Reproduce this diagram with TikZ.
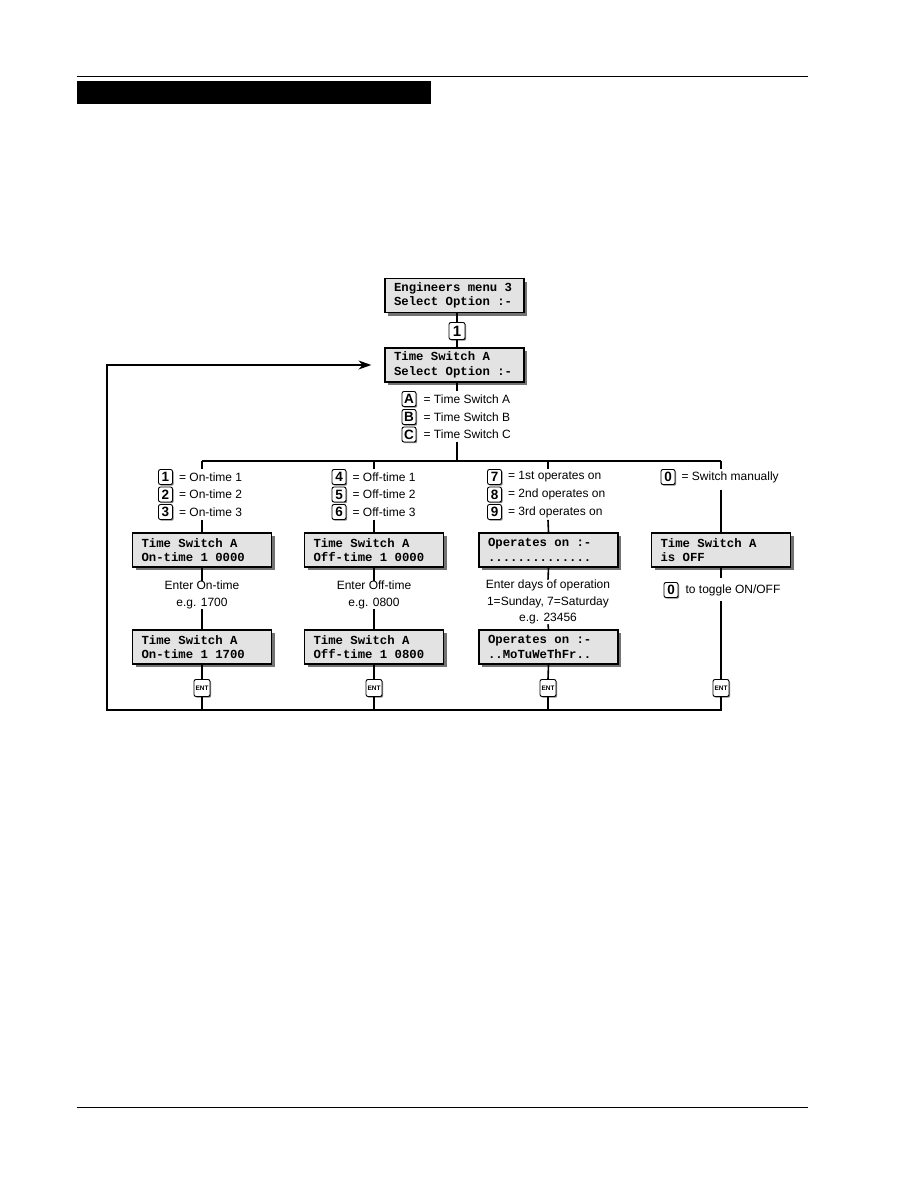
\documentclass[tikz,border=0pt]{standalone}
\usepackage{fontspec}
\setmainfont{Liberation Sans}
\setsansfont{Liberation Sans}
\setmonofont{Liberation Mono}
\usetikzlibrary{shadows,arrows.meta}
\protected\def\lcdfmt{\ttfamily\bfseries\fontsize{12.3}{14.5}\selectfont}
\protected\def\lsp{\kern7.38pt\relax}
\begin{document}
\begin{tikzpicture}[x=1pt,y=-1pt,
  lcd/.style={draw=black, line width=1.2pt, fill=black!11, minimum width=139pt, minimum height=34pt,
    text width=121pt, align=left, inner sep=0pt,
    font=\lcdfmt,
    drop shadow={shadow xshift=3pt, shadow yshift=-3pt, fill=black!55, opacity=1}},
  kbox/.style={draw=black, line width=0.9pt, fill=white, rounded corners=2pt, minimum width=14pt,
    minimum height=15pt, inner sep=0pt, font=\sffamily\bfseries\fontsize{13.5}{13.5}\selectfont,
    drop shadow={shadow xshift=1.2pt, shadow yshift=-1.2pt, fill=black!50, opacity=1}},
  bigkey/.style={kbox, minimum width=16pt, minimum height=17pt, font=\sffamily\bfseries\fontsize{15}{15}\selectfont},
  entkey/.style={kbox, minimum width=16pt, minimum height=17pt, font=\sffamily\bfseries\fontsize{6.5}{7}\selectfont},
  lbl/.style={anchor=west, inner sep=0pt, font=\fontsize{12}{14}\selectfont},
  ctext/.style={align=center, inner sep=0pt, font=\fontsize{12}{16.5}\selectfont},
  wire/.style={line width=1.6pt, black}]
\useasboundingbox (0,0) rectangle (918,1188);
\fill[white] (0,0) rectangle (918,1188);
% header
\draw[line width=1pt] (77,77) -- (808,77);
\fill[black] (77,81) rectangle (431,104);
\draw[line width=1pt] (77,1107) -- (808,1107);

% top
\node[lcd] (em3) at (454.5,295.5) {Engineers\lsp menu\lsp 3\\Select\lsp Option\lsp :-};
\node[bigkey] (k1) at (457,331) {1};
\node[lcd] (tsa) at (454.5,365) {Time\lsp Switch\lsp A\\Select\lsp Option\lsp :-};
\node[kbox] (kA) at (409,399) {A};
\node[lbl] (tA) at ([xshift=7pt]kA.east) {= Time Switch A};
\node[kbox] (kB) at (409,417) {B};
\node[lbl] (tB) at ([xshift=7pt]kB.east) {= Time Switch B};
\node[kbox] (kC) at (409,434.5) {C};
\node[lbl] (tC) at ([xshift=7pt]kC.east) {= Time Switch C};

\coordinate (top) at (457,461);
\coordinate (b1) at (202,461);
\coordinate (b2) at (374,461);
\coordinate (b3) at (548,461);
\coordinate (b4) at (721,461);
\coordinate (lb) at (107,710);

% column 1
\node[kbox] (k1a) at (165.5,477) {1};
\node[lbl] at ([xshift=6pt]k1a.east) {= On-time 1};
\node[kbox] (k1b) at (165.5,494.5) {2};
\node[lbl] at ([xshift=6pt]k1b.east) {= On-time 2};
\node[kbox] (k1c) at (165.5,512) {3};
\node[lbl] at ([xshift=6pt]k1c.east) {= On-time 3};
\node[lcd] (c1a) at (202,550) {Time\lsp Switch\lsp A\\On-time\lsp 1\lsp 0000};
\node[ctext] (e1) at (202,595) {Enter On-time\\e.g. 1700};
\node[lcd] (c1b) at (202,647) {Time\lsp Switch\lsp A\\On-time\lsp 1\lsp 1700};
\node[entkey] (ent1) at (202,688) {ENT};

% column 2
\node[kbox] (k2a) at (339,477) {4};
\node[lbl] at ([xshift=6pt]k2a.east) {= Off-time 1};
\node[kbox] (k2b) at (339,494.5) {5};
\node[lbl] at ([xshift=6pt]k2b.east) {= Off-time 2};
\node[kbox] (k2c) at (339,512) {6};
\node[lbl] at ([xshift=6pt]k2c.east) {= Off-time 3};
\node[lcd] (c2a) at (374,550) {Time\lsp Switch\lsp A\\Off-time\lsp 1\lsp 0000};
\node[ctext] (e2) at (374,595) {Enter Off-time\\e.g. 0800};
\node[lcd] (c2b) at (374,647) {Time\lsp Switch\lsp A\\Off-time\lsp 1\lsp 0800};
\node[entkey] (ent2) at (374,688) {ENT};

% column 3
\node[kbox] (k3a) at (494.5,477) {7};
\node[lbl] at ([xshift=6pt]k3a.east) {= 1st operates on};
\node[kbox] (k3b) at (494.5,494.5) {8};
\node[lbl] at ([xshift=6pt]k3b.east) {= 2nd operates on};
\node[kbox] (k3c) at (494.5,512) {9};
\node[lbl] at ([xshift=6pt]k3c.east) {= 3rd operates on};
\node[lcd] (c3a) at (548.5,550) {Operates\lsp on\lsp :-\\..............};
\node[ctext] (e3) at (548,602) {Enter days of operation\\1=Sunday, 7=Saturday\\e.g. 23456};
\node[lcd] (c3b) at (548.5,647) {Operates\lsp on\lsp :-\\..MoTuWeThFr..};
\node[entkey] (ent3) at (548,688) {ENT};

% column 4
\node[kbox] (k4a) at (668,477) {0};
\node[lbl] at ([xshift=6pt]k4a.east) {= Switch manually};
\node[lcd] (c4a) at (721,550) {Time\lsp Switch\lsp A\\is\lsp OFF};
\node[kbox] (k4t) at (671,590) {0};
\node[lbl] at ([xshift=7pt]k4t.east) {to toggle ON/OFF};
\node[entkey] (ent4) at (721,688) {ENT};

% wires top
\draw[wire] (em3.south -| k1.north) -- (k1.north);
\draw[wire] (k1.south) -- (k1.south |- tsa.north);
\draw[wire] (tsa.south -| top) -- (top |- kA.north);
\draw[wire] (top |- kC.south) -- (top);
\draw[wire] (b1) -- (b4);

% column wires
\draw[wire] (b1) -- (b1 |- k1a.north);
\draw[wire] (b1 |- k1c.south) -- (c1a.north);
\draw[wire] (c1a.south) -- (e1.north);
\draw[wire] (e1.south) -- (c1b.north);
\draw[wire] (c1b.south) -- (ent1.north);

\draw[wire] (b2) -- (b2 |- k2a.north);
\draw[wire] (b2 |- k2c.south) -- (c2a.north);
\draw[wire] (c2a.south) -- (e2.north);
\draw[wire] (e2.south) -- (c2b.north);
\draw[wire] (c2b.south) -- (ent2.north);

\draw[wire] (b3) -- (b3 |- k3a.north);
\draw[wire] (b3 |- k3c.south) -- (c3a.north);
\draw[wire] (c3a.south) -- (e3.north);
\draw[wire] (e3.south) -- (c3b.north);
\draw[wire] (c3b.south) -- (ent3.north);

\draw[wire] (b4) -- (b4 |- k4a.north);
\draw[wire] ([yshift=-5pt]b4 |- k4a.south) -- (c4a.north);
\draw[wire] (c4a.south) -- ([yshift=4pt]b4 |- k4t.north);
\draw[wire] ([yshift=-3pt]b4 |- k4t.south) -- (ent4.north);

% return loop
\draw[wire] (ent1.south) -- (ent1.south |- lb);
\draw[wire] (ent2.south) -- (ent2.south |- lb);
\draw[wire] (ent3.south) -- (ent3.south |- lb);
\draw[wire, -{Stealth[length=13pt,width=9pt]}] (ent4.south) -- (ent4.south |- lb) -- (lb) |- ([xshift=-13pt]tsa.west);
\end{tikzpicture}
\end{document}
